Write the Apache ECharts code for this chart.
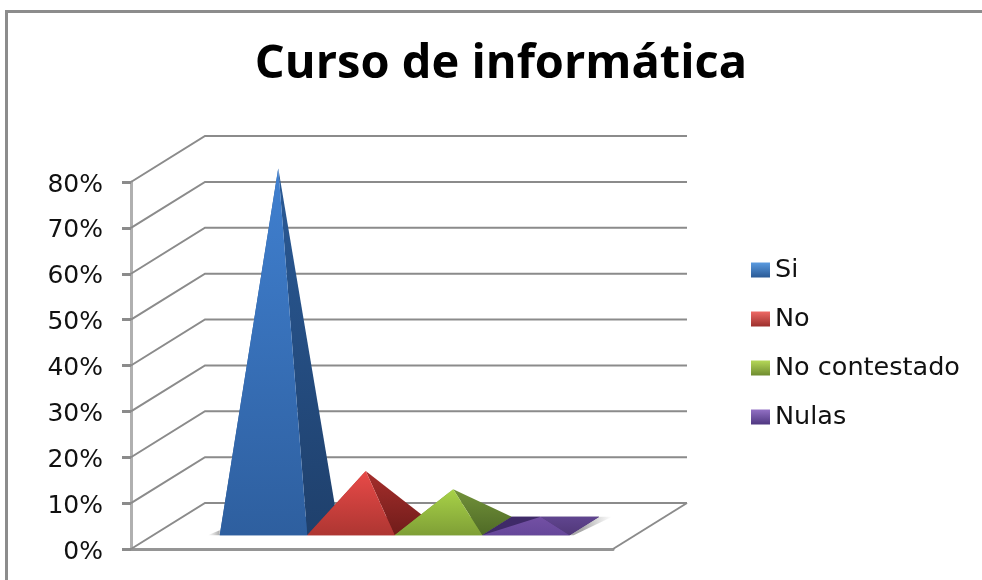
<!DOCTYPE html>
<html>
<head>
<meta charset="utf-8">
<style>html,body{margin:0;padding:0;background:#fff}#c{width:982px;height:580px;filter:blur(0.4px)}</style>
<script src="https://cdn.jsdelivr.net/npm/echarts@6/dist/echarts.min.js"></script>
</head>
<body>
<div id="c"></div>
<script>
const titleText = 'Curso de informática';
const categories = ['Curso de informática'];
const seriesNames = ['Si', 'No', 'No contestado', 'Nulas'];
const seriesValues = [78, 12, 8, 2];
const tickValues = [0, 10, 20, 30, 40, 50, 60, 70, 80];

// Office-style face colours: [top, bottom]
const frontColors = [['#4080d0', '#2e5f9f'], ['#e84a48', '#ae3632'], ['#a8d248', '#7f9f36'], ['#7350a4', '#66479a']];
const sideColors = [['#2a5a96', '#1f406c'], ['#a62e2c', '#701c1a'], ['#72923a', '#4f6a26'], ['#60458f', '#513879']];
const leftColors = ['#2a5a96', '#a62e2c', '#72923a', '#3f2a68'];
const legendColors = [['#5b9be0', '#2a5a96'], ['#ee6a66', '#9c2f2c'], ['#b5d858', '#6f8c30'], ['#9270c4', '#4f3780']];

// 3D projection of the floor, in pixels, and layout fractions of the pyramid cluster
const DEPTH_X = 74, DEPTH_Y = 46;
const BASE_NEAR = 0.3, BASE_FAR = 0.7;
const CLUSTER_START = 0.138, PYRAMID_WIDTH = 0.1815;

const grad = (c) => ({type: 'linear', x: 0, y: 0, x2: 0, y2: 1, colorStops: [{offset: 0, color: c[0]}, {offset: 1, color: c[1]}]});

function renderWall(params, api) {
  const y = api.coord([0, api.value(0)])[1];
  const band = api.size([1, 0])[0];
  const left = api.coord([0, 0])[0] - band / 2;
  const isFloor = api.value(0) === 0;
  const children = [{
    type: 'polyline',
    shape: {points: [[left, y], [left + DEPTH_X, y - DEPTH_Y], [left + band + DEPTH_X, y - DEPTH_Y]]},
    style: {fill: 'none', stroke: '#8b8b8b', lineWidth: 2}
  }];
  if (isFloor) {
    children.push({
      type: 'line',
      shape: {x1: left + band, y1: y, x2: left + band + DEPTH_X, y2: y - DEPTH_Y},
      style: {stroke: '#8b8b8b', lineWidth: 2}
    });
  }
  return {type: 'group', children};
}

function renderPyramid(params, api) {
  const i = params.seriesIndex - 1;
  const band = api.size([1, 0])[0];
  const bandLeft = api.coord([0, 0])[0] - band / 2;
  const zeroY = api.coord([0, 0])[1];
  const unitY = zeroY - api.coord([0, 1])[1];
  const project = (fx, depth, v) => [
    bandLeft + band * fx + DEPTH_X * depth,
    zeroY - DEPTH_Y * depth - v * unitY
  ];
  const x0 = CLUSTER_START + PYRAMID_WIDTH * i;
  const x1 = x0 + PYRAMID_WIDTH;
  const fl = project(x0, BASE_NEAR, 0), fr = project(x1, BASE_NEAR, 0);
  const bl = project(x0, BASE_FAR, 0), br = project(x1, BASE_FAR, 0);
  const apex = project((x0 + x1) / 2, (BASE_NEAR + BASE_FAR) / 2, api.value(1));
  const poly = (pts, fill) => ({type: 'polygon', shape: {points: pts}, style: {fill, stroke: 'none'}});
  const children = [];
  if (i === 0) {
    children.push({type: 'polygon', shape: {points: [[fl[0] - 12, fl[1]], [fl[0], fl[1] - 5], fl]},
      style: {fill: {type: 'linear', x: 0, y: 0, x2: 1, y2: 0, colorStops: [{offset: 0, color: 'rgba(170,170,170,0)'}, {offset: 1, color: 'rgba(150,150,150,0.8)'}]}}});
  }
  if (i === seriesValues.length - 1) {
    children.push({type: 'polygon', shape: {points: [fr, br, [br[0] + 13, br[1]], [fr[0] + 4, fr[1]]]},
      style: {fill: {type: 'linear', x: 0, y: 0, x2: 1, y2: 0, colorStops: [{offset: 0.3, color: 'rgba(140,140,140,0.75)'}, {offset: 1, color: 'rgba(170,170,170,0)'}]}}});
  }
  children.push(poly([fl, bl, br, fr], leftColors[i]));
  children.push(poly([fl, bl, apex], leftColors[i]));
  children.push(poly([fr, br, apex], grad(sideColors[i])));
  children.push(poly([fl, fr, apex], grad(frontColors[i])));
  return {type: 'group', children};
}

const wallSeries = {
  type: 'custom', name: 'walls', silent: true, z: 1,
  renderItem: renderWall,
  encode: {y: 0},
  data: tickValues.map(v => [v])
};
const pyramidSeries = seriesNames.map((name, i) => ({
  type: 'custom', name, z: 3 + i,
  renderItem: renderPyramid,
  encode: {x: 0, y: 1},
  itemStyle: {color: frontColors[i][1]},
  data: [[0, seriesValues[i]]]
}));

const chart = echarts.init(document.getElementById('c'), null, {renderer: 'canvas'});
chart.setOption({
  animation: false,
  backgroundColor: '#fff',
  title: {
    text: titleText, left: 496, top: 36, textAlign: 'center',
    textStyle: {fontFamily: 'Open Sans', fontWeight: 'bold', fontSize: 47, color: '#000'}
  },
  grid: {left: 131, top: 182, width: 482, height: 367},
  xAxis: {
    type: 'category', data: categories,
    axisLine: {show: true, lineStyle: {color: '#959595', width: 3}},
    axisTick: {show: false}, axisLabel: {show: false}
  },
  yAxis: {
    type: 'value', min: 0, max: 80, interval: 10,
    axisLine: {show: true, lineStyle: {color: '#b0b0b0', width: 3}},
    axisTick: {show: true, length: 9, lineStyle: {color: '#8b8b8b', width: 3}},
    splitLine: {show: false},
    axisLabel: {formatter: '{value}%', margin: 28, fontFamily: 'DejaVu Sans', fontSize: 25, color: '#111', verticalAlign: 'top', lineHeight: 6}
  },
  legend: {
    orient: 'vertical', left: 746, top: 252, icon: 'rect',
    itemWidth: 19, itemHeight: 15, itemGap: 23,
    selectedMode: false,
    textStyle: {fontFamily: 'DejaVu Sans', fontSize: 25.5, color: '#111'},
    data: seriesNames.map((name, i) => ({name, itemStyle: {color: grad(legendColors[i])}}))
  },
  graphic: [{
    type: 'polyline', silent: true,
    shape: {points: [[6.5, 580], [6.5, 11.5], [982, 11.5]]},
    style: {fill: 'none', stroke: '#8c8c8c', lineWidth: 3}
  }],
  series: [wallSeries].concat(pyramidSeries)
});
</script>
</body>
</html>
